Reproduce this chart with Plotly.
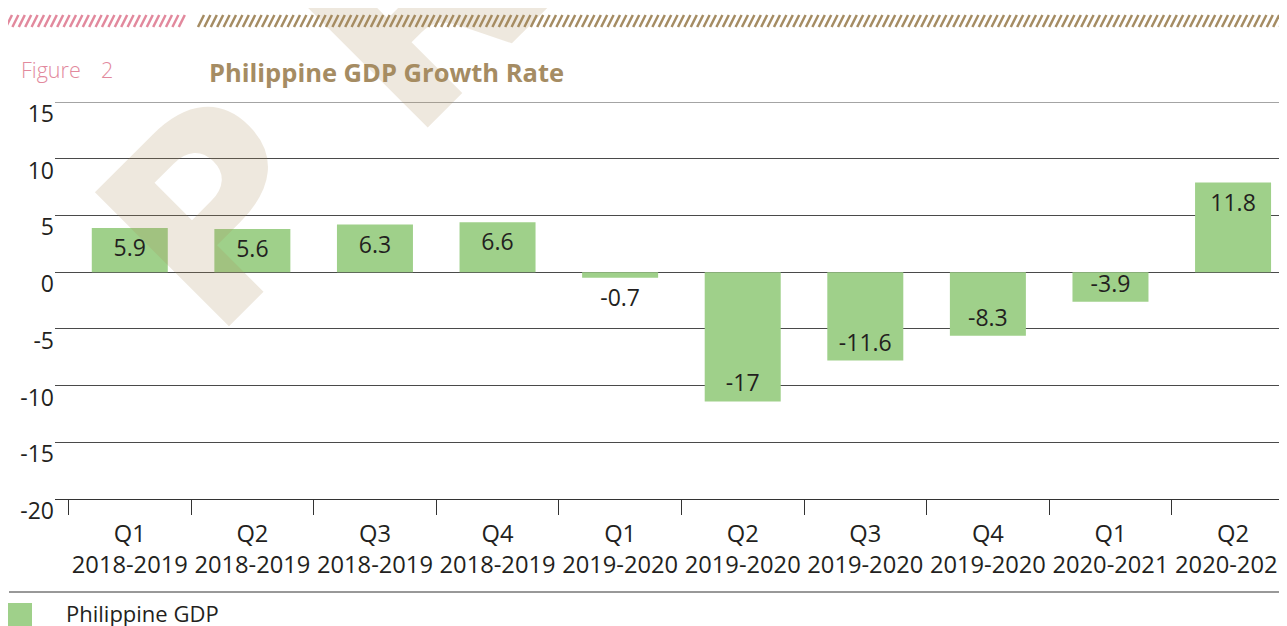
import numpy as np
import plotly.graph_objects as go

# categories (quarter + fiscal year)
quarters = ["Q1", "Q2", "Q3", "Q4", "Q1", "Q2", "Q3", "Q4", "Q1", "Q2"]
years = ["2018-2019", "2018-2019", "2018-2019", "2018-2019", "2019-2020",
         "2019-2020", "2019-2020", "2019-2020", "2020-2021", "2020-2021"]

# printed growth values (labels on the bars)
growth_labels = [5.9, 5.6, 6.3, 6.6, -0.7, -17, -11.6, -8.3, -3.9, 11.8]
# bar heights as drawn against the axis in the original figure
bar_heights = [3.9, 3.8, 4.2, 4.4, -0.5, -11.4, -7.8, -5.6, -2.6, 7.9]

y_ticks = [-20, -15, -10, -5, 0, 5, 10, 15]

categories = [f"{q}<br>{y}" for q, y in zip(quarters, years)]
texts = [f"{v:g}" for v in growth_labels]
positions = ["outside" if abs(h) < 1 else "inside" for h in bar_heights]

GREEN = "#9fd08a"
TAN = "#a58c63"
PINK = "#e2899d"
INK = "#231f20"
GRID = "#4a4a4a"

# the page puts the figure 8px in from the top-left corner
OFF = 8
W, H = 1287 - OFF, 626 - OFF
# plot area in page pixels: x 55..1287, y 102..499
L, R, T, B = 55, 1287, 102, 499


def px(p):
    return (p - L) / (R - L)


def py(p):
    return (B - p) / (B - T)


fig = go.Figure()
fig.add_trace(go.Bar(
    x=categories,
    y=bar_heights,
    text=texts,
    textposition=positions,
    insidetextanchor="end",
    constraintext="none",
    textfont=dict(family="Open Sans", size=23, color=INK),
    marker=dict(color=GREEN, line=dict(width=0)),
    name="Philippine GDP",
    cliponaxis=False,
))

shapes = []
# hatched bands at the top
for x0, x1, col in [(6, 182, PINK), (198, 1290, TAN)]:
    for s in np.arange(x0, x1, 6.4):
        shapes.append(dict(type="line", xref="paper", yref="paper",
                           x0=px(s), y0=py(27), x1=px(s + 6), y1=py(15),
                           line=dict(color=col, width=2.5)))
# top gridline sits on the plot edge
shapes.append(dict(type="line", xref="paper", yref="y", x0=0, x1=1,
                   y0=y_ticks[-1], y1=y_ticks[-1], layer="below",
                   line=dict(color=GRID, width=1)))
# separator and legend swatch
shapes.append(dict(type="line", xref="paper", yref="paper",
                   x0=px(9), x1=px(1290), y0=py(592), y1=py(592),
                   line=dict(color="#333333", width=1)))
shapes.append(dict(type="rect", xref="paper", yref="paper",
                   x0=px(8), x1=px(32), y0=py(603), y1=py(630),
                   fillcolor=GREEN, line=dict(width=0)))

annotations = [
    dict(text="Figure", x=px(19), y=py(70), xanchor="left", yanchor="middle",
         font=dict(family="Open Sans", size=21.5, color=PINK, weight=300)),
    dict(text="2", x=px(99), y=py(70), xanchor="left", yanchor="middle",
         font=dict(family="Open Sans", size=21.5, color=PINK, weight=300)),
    dict(text="<b>Philippine GDP Growth Rate</b>", x=px(207), y=py(72),
         xanchor="left", yanchor="middle",
         font=dict(family="Open Sans", size=25.5, color=TAN)),
    dict(text="Philippine GDP", x=px(64), y=py(613), xanchor="left", yanchor="middle",
         font=dict(family="Open Sans", size=22, color=INK)),
    # watermark
    dict(text="<b>P R E V I E W</b>", x=px(811), y=py(-383), xanchor="center",
         yanchor="middle", textangle=-45,
         font=dict(family="DejaVu Sans", size=260, color="rgba(168,138,92,0.2)")),
]
for a in annotations:
    a.update(xref="paper", yref="paper", showarrow=False)

fig.update_layout(
    template="none",
    width=W,
    height=H,
    margin=dict(l=L - OFF, r=0, t=T - OFF, b=H - (B - OFF), pad=0),
    plot_bgcolor="white",
    paper_bgcolor="white",
    bargap=0.38,
    showlegend=False,
    font=dict(family="Open Sans", size=23, color=INK),
    shapes=shapes,
    annotations=annotations,
    xaxis=dict(
        type="category",
        range=[-0.61, 9.44],
        tickson="boundaries",
        ticks="outside",
        ticklen=15,
        tickwidth=1,
        tickcolor="#333333",
        tickangle=0,
        showline=True,
        linecolor="#333333",
        linewidth=1,
        showgrid=False,
        zeroline=False,
        automargin=False,
        ticklabelstandoff=14,
        tickfont=dict(family="Open Sans", size=23.7, color=INK),
    ),
    yaxis=dict(
        range=[-20, 15],
        tickvals=y_ticks,
        ticktext=[str(v) for v in y_ticks],
        ticks="",
        showgrid=True,
        gridcolor=GRID,
        gridwidth=1,
        zeroline=False,
        showline=False,
        automargin=False,
        ticklabelshift=12,
        ticklabelstandoff=0,
        tickfont=dict(family="Open Sans", size=23, color=INK),
    ),
)

fig.write_html("out.html")
